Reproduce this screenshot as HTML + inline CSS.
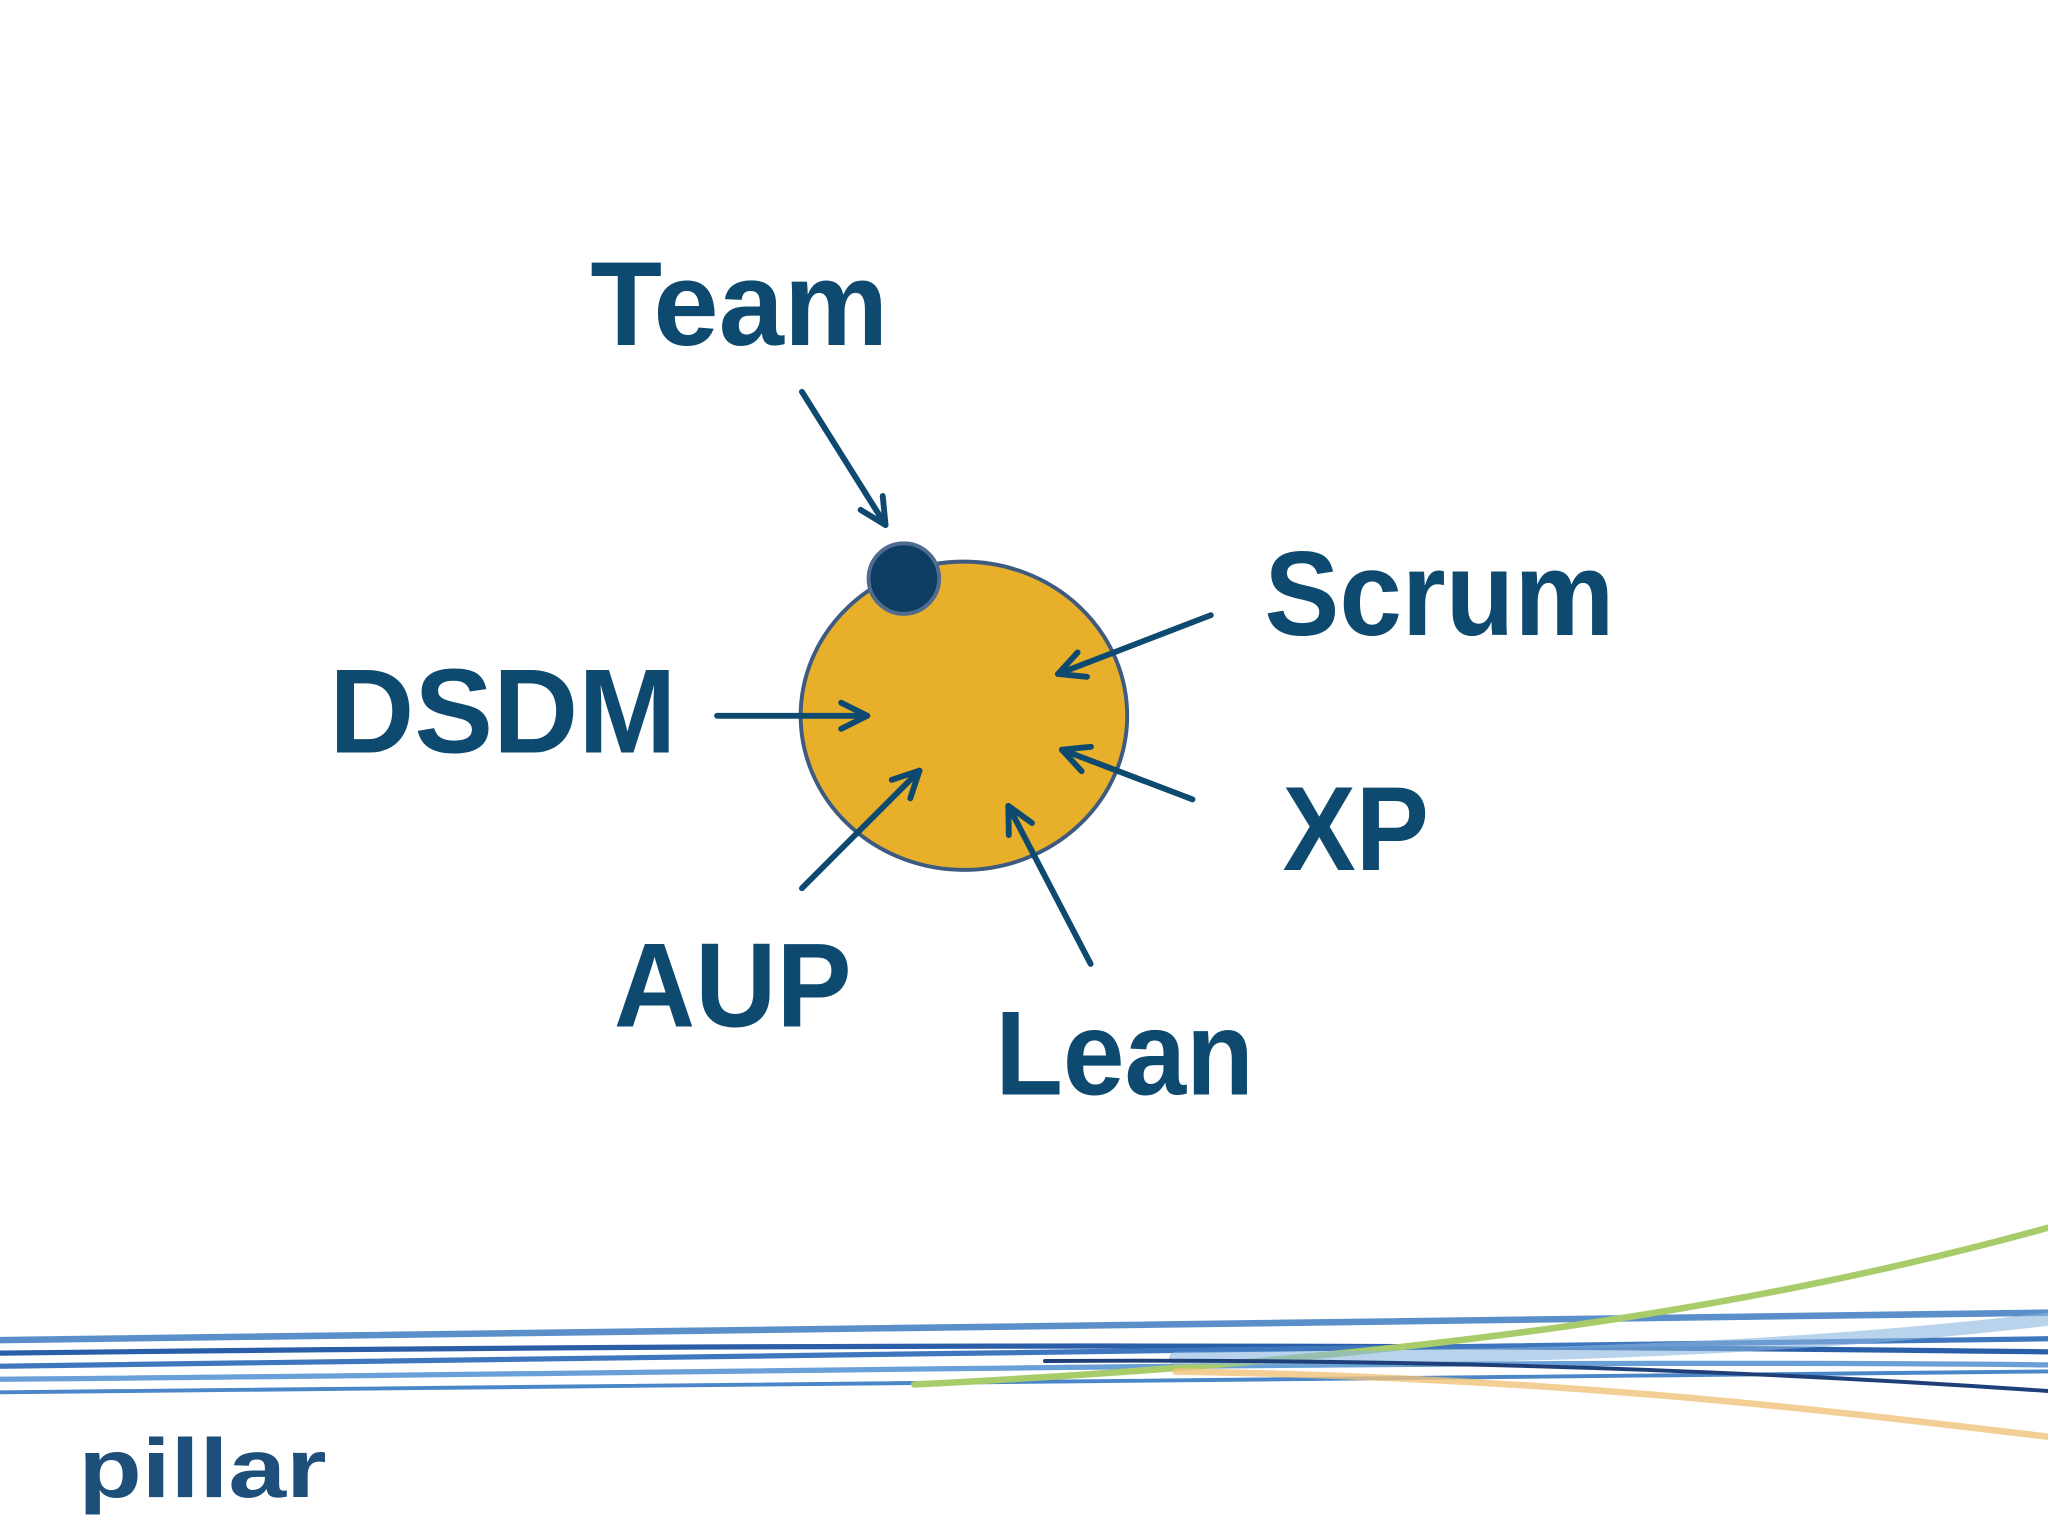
<!DOCTYPE html>
<html><head><meta charset="utf-8"><style>
html,body{margin:0;padding:0;background:#fff;}
svg{display:block;}
text{font-family:"Liberation Sans",sans-serif;font-weight:bold;fill:#0e4a6f;}
</style></head><body>
<svg width="2048" height="1536" viewBox="0 0 1568 1176" xmlns="http://www.w3.org/2000/svg">
<defs>
<marker id="ah" viewBox="0 0 24 24" refX="22" refY="12" markerWidth="24" markerHeight="24" markerUnits="userSpaceOnUse" orient="auto" overflow="visible">
<path d="M2,2 L22,12 L2,22" fill="none" stroke="#0e4a6f" stroke-width="4.5" stroke-linecap="round" stroke-linejoin="round"/>
</marker>
</defs>
<rect width="1568" height="1176" fill="#fff"/>
<g fill="none" stroke-linecap="round">
<path d="M0,1026 C500,1022 1000,1015 1568,1005" stroke="#5b8fc9" stroke-width="5"/>
<path d="M0,1036 C500,1030 1000,1028 1568,1035" stroke="#2a5ea8" stroke-width="4"/>
<path d="M0,1046 C600,1040 1100,1030 1568,1025" stroke="#3f77bf" stroke-width="4"/>
<path d="M0,1056 C500,1052 1100,1040 1568,1045" stroke="#6aa0d8" stroke-width="4"/>
<path d="M0,1066 C600,1062 1100,1055 1568,1050" stroke="#4a86c8" stroke-width="3"/>
<path d="M700,1060 C1100,1040 1350,1000 1568,940" stroke="#a8cc6a" stroke-width="5"/>
<path d="M900,1040 C1200,1040 1400,1030 1568,1010" stroke="#8ab6e0" stroke-width="10" opacity="0.6"/>
<path d="M900,1050 C1200,1055 1400,1080 1568,1100" stroke="#f0c27a" stroke-width="5" opacity="0.8"/>
<path d="M800,1042 C1100,1040 1350,1050 1568,1065" stroke="#1e3f78" stroke-width="3"/>
</g>
<ellipse cx="738" cy="548" rx="125" ry="118" fill="#e8b02a" stroke="#3d5a80" stroke-width="3"/>
<circle cx="692" cy="443" r="27" fill="#0d3d63" stroke="#4f6c90" stroke-width="3"/>
<g stroke="#0e4a6f" stroke-width="4.5" fill="none" marker-end="url(#ah)" stroke-linecap="round">
<line x1="614" y1="300" x2="678" y2="402"/>
<line x1="549" y1="548" x2="664" y2="548"/>
<line x1="927" y1="471" x2="810" y2="516"/>
<line x1="913" y1="612" x2="813" y2="574"/>
<line x1="835" y1="738" x2="772" y2="617"/>
<line x1="614" y1="680" x2="704" y2="590"/>
</g>
<text x="452" y="264" font-size="92" textLength="228" lengthAdjust="spacingAndGlyphs">Team</text>
<text x="968" y="486" font-size="92" textLength="268" lengthAdjust="spacingAndGlyphs">Scrum</text>
<text x="252" y="576" font-size="92" textLength="266" lengthAdjust="spacingAndGlyphs">DSDM</text>
<text x="982" y="666" font-size="92" textLength="112" lengthAdjust="spacingAndGlyphs">XP</text>
<text x="470" y="786" font-size="92" textLength="182" lengthAdjust="spacingAndGlyphs">AUP</text>
<text x="762" y="838" font-size="92" textLength="198" lengthAdjust="spacingAndGlyphs">Lean</text>
<text x="60" y="1146" font-size="64" textLength="190" lengthAdjust="spacingAndGlyphs" style="fill:#1d4f7a">pillar</text>
</svg>
</body></html>
